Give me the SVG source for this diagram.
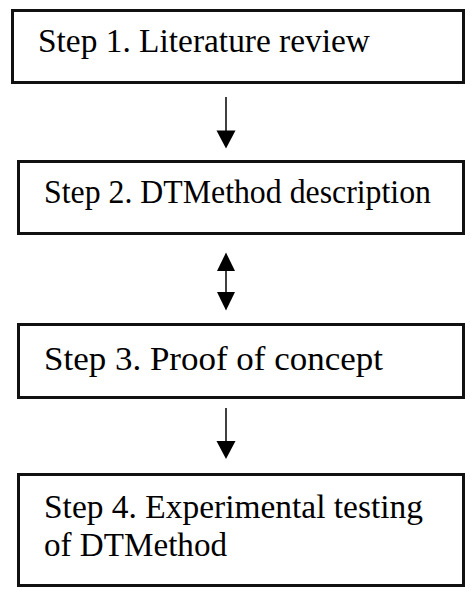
<svg xmlns="http://www.w3.org/2000/svg" width="474" height="598" viewBox="0 0 474 598">
<style>
.box{fill:#fff;stroke:#111;stroke-width:3}
.lbl{font-family:"Liberation Serif","Times New Roman",serif;font-size:34px;fill:#000}
.ln{stroke:#000;stroke-width:1.5;fill:none}
.hd{fill:#000}
</style>
<rect width="474" height="598" fill="#fff"/>
<g id="step1"><rect class="box" x="12.5" y="10.5" width="451" height="72"/><text class="lbl" x="38" y="52" textLength="332" lengthAdjust="spacingAndGlyphs">Step 1. Literature review</text></g>
<g id="step2"><rect class="box" x="18.5" y="161.5" width="445" height="72"/><text class="lbl" x="44" y="203" textLength="387" lengthAdjust="spacingAndGlyphs">Step 2. DTMethod description</text></g>
<g id="step3"><rect class="box" x="18.5" y="324.5" width="445" height="73"/><text class="lbl" x="44" y="370" textLength="339" lengthAdjust="spacingAndGlyphs">Step 3. Proof of concept</text></g>
<g id="step4"><rect class="box" x="18.5" y="474.5" width="445" height="111"/><text class="lbl" x="44" y="518" textLength="379" lengthAdjust="spacingAndGlyphs">Step 4. Experimental testing</text><text class="lbl" x="44" y="556" textLength="183" lengthAdjust="spacingAndGlyphs">of DTMethod</text></g>
<g id="connectors">
<line class="ln" x1="226" y1="97" x2="226" y2="132"/>
<polygon class="hd" points="216.5,130.5 235.5,130.5 226,148.5"/>
<line class="ln" x1="226" y1="269" x2="226" y2="294"/>
<polygon class="hd" points="217,271 235,271 226,252.5"/>
<polygon class="hd" points="217,292 235,292 226,310.5"/>
<line class="ln" x1="226" y1="408" x2="226" y2="443"/>
<polygon class="hd" points="216.5,441 235.5,441 226,459"/>
</g>
</svg>
